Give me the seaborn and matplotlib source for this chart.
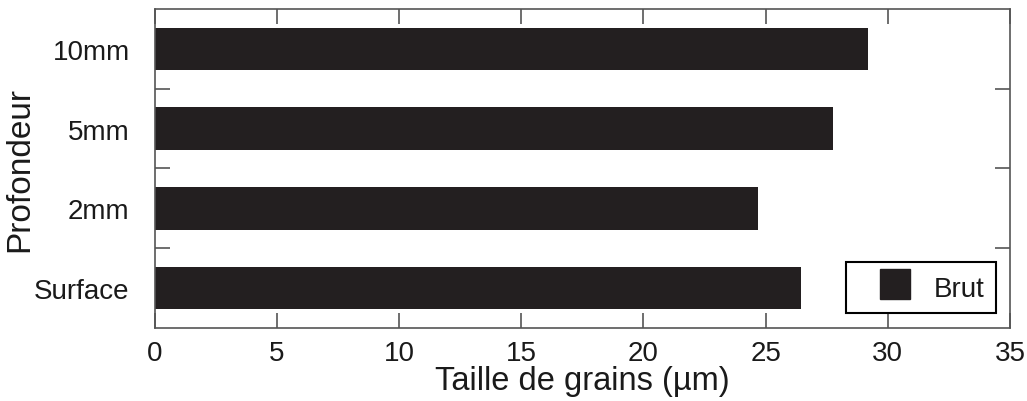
import pandas as pd
import matplotlib
matplotlib.use('Agg')
import matplotlib.pyplot as plt
import seaborn as sns
from matplotlib.ticker import FixedLocator
from matplotlib.lines import Line2D

# Data
profondeur = ['10mm', '5mm', '2mm', 'Surface']
taille_brut = [29.18, 27.75, 24.69, 26.45]
bar_color = '#231f20'

df = pd.DataFrame({'Profondeur': profondeur, 'Taille': taille_brut, 'Etat': 'Brut'})

sns.set_style('white')
plt.rcParams['font.family'] = ['Liberation Sans', 'DejaVu Sans']

fig = plt.figure(figsize=(10.27, 4.02), dpi=100)
ax = fig.add_axes([0.1506, 0.182, 0.8328, 0.793])

sns.barplot(data=df, y='Profondeur', x='Taille', hue='Etat', order=profondeur,
            palette=[bar_color], orient='h', width=0.535, ax=ax,
            saturation=1, edgecolor='none', legend=False)

ax.set_xlim(0, 35)
ax.set_ylim(3.5, -0.5)
ax.set_xticks(range(0, 36, 5))
ax.tick_params(axis='x', which='major', direction='in', length=11, width=1.2,
               color='#555555', top=True, bottom=True, labelsize=20, pad=9,
               labelcolor='#1a1a1a')
ax.tick_params(axis='y', which='major', length=0, labelsize=20, pad=18,
               labelcolor='#1a1a1a')
ax.yaxis.set_minor_locator(FixedLocator([0.5, 1.5, 2.5]))
ax.tick_params(axis='y', which='minor', direction='in', length=11, width=1.2,
               color='#555555', left=True, right=True)

for s in ax.spines.values():
    s.set_color('#555555')
    s.set_linewidth(1.2)

ax.set_xlabel('Taille de grains (µm)', fontsize=23.5, labelpad=-1, color='#1a1a1a')
ax.set_ylabel('Profondeur', fontsize=24, color='#1a1a1a')
ax.yaxis.set_label_coords(-0.14, 0.5)

# legend with a square marker, centred in a wide handle box
handle = Line2D([], [], linestyle='none', marker='s', markersize=21.6,
                markerfacecolor=bar_color, markeredgecolor=bar_color)
leg = ax.legend(handles=[handle], labels=['Brut'], loc='lower right',
                bbox_to_anchor=(0.9835, 0.047), fontsize=20, frameon=True,
                fancybox=False, handlelength=2.7, handleheight=1.1,
                borderpad=0.4, handletextpad=0.05, borderaxespad=0)
leg.get_frame().set_edgecolor('black')
leg.get_frame().set_linewidth(1.5)
leg.get_frame().set_alpha(1)
for t in leg.get_texts():
    t.set_color('#1a1a1a')

fig.savefig('out.png', dpi=100)
